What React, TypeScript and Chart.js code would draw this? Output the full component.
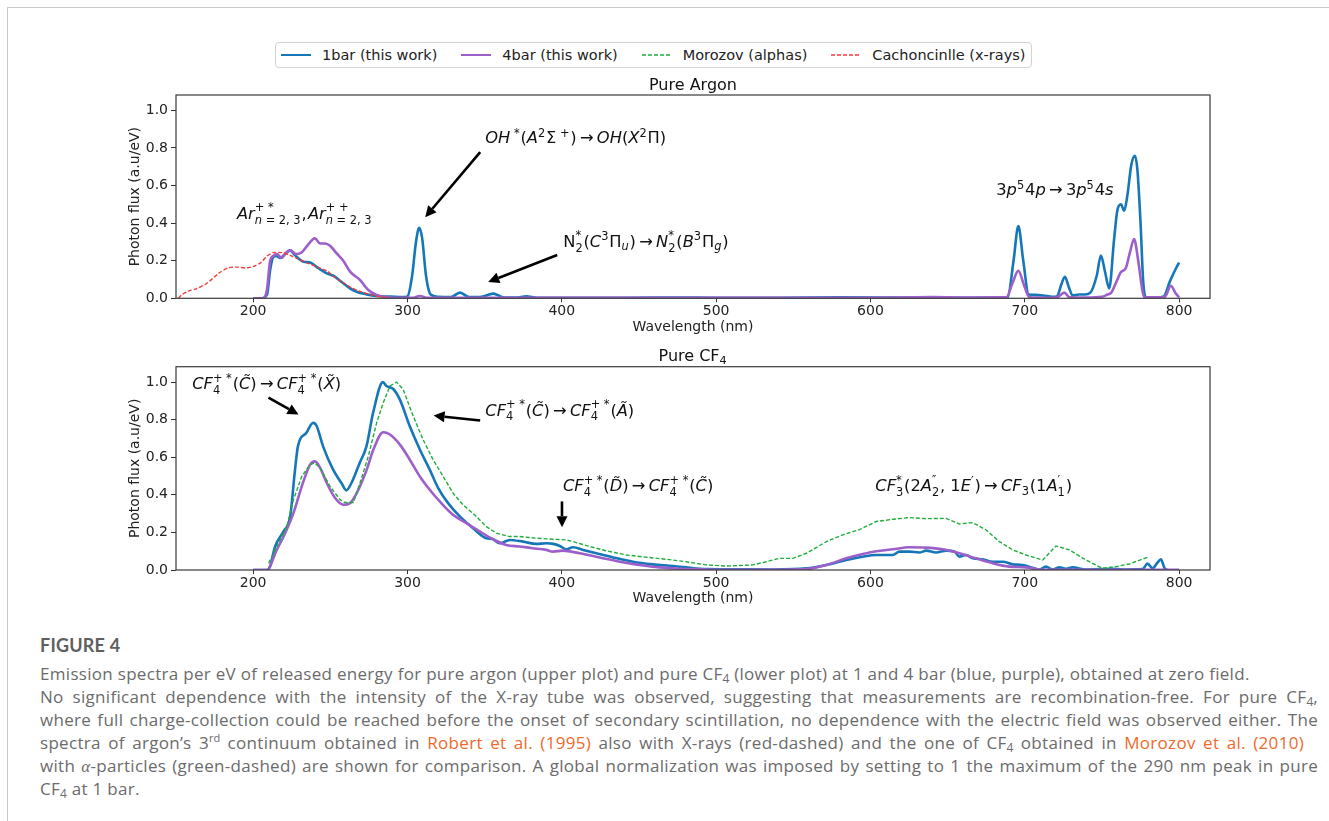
import React, { useEffect, useRef } from 'react';
import { Chart, registerables } from 'chart.js';

Chart.register(...registerables);

// ---------------- data ----------------
const X_TICKS = [200, 300, 400, 500, 600, 700, 800];
const Y_TICKS = [0, 0.2, 0.4, 0.6, 0.8, 1.0];
const X_MIN = 150;
const X_MAX = 820;
const Y_MAX = 1.082;

const LEGEND_LABELS = ['1bar (this work)', '4bar (this work)', 'Morozov (alphas)', 'Cachoncinlle (x-rays)'];
const TOP_TITLE = 'Pure Argon';
const BOTTOM_TITLE = 'Pure CF';
const X_LABEL = 'Wavelength (nm)';
const Y_LABEL = 'Photon flux (a.u/eV)';

// Pure argon, 1 bar  [wavelength nm, flux]
const AR_1BAR: [number, number][] = [
  [200, 0], [205, 0], [209, 0.02], [211, 0.15], [213, 0.22], [215, 0.225], [217.5, 0.215], [220, 0.23],
  [222, 0.245], [224, 0.255], [226, 0.24], [228.3, 0.22], [232.6, 0.195], [237, 0.19], [242.3, 0.16],
  [247.7, 0.133], [252, 0.12], [258.4, 0.08], [262.7, 0.053], [267, 0.035], [273.5, 0.021], [280, 0.012],
  [289, 0.009], [297, 0.006], [300, 0.01], [303, 0.12], [305.5, 0.3], [307.6, 0.375], [309.5, 0.32],
  [312, 0.12], [315, 0.02], [320, 0.008], [328, 0.006], [334, 0.03], [340, 0.006], [348, 0.008],
  [355.5, 0.025], [362, 0.006], [370, 0.004], [377, 0.01], [384, 0.003], [420, 0.002], [460, 0.004],
  [500, 0.003], [540, 0.002], [580, 0.005], [620, 0.004], [660, 0.003], [686, 0.003], [688.9, 0.005],
  [692.7, 0.2], [695.8, 0.384], [699, 0.2], [702.5, 0.02], [707, 0.018], [712, 0.015], [718, 0.008],
  [721, 0.012], [723.5, 0.07], [726, 0.115], [728.5, 0.06], [731, 0.015], [735, 0.02], [739, 0.02],
  [742.5, 0.03], [746.6, 0.12], [749.3, 0.227], [752, 0.14], [754.7, 0.053], [757.8, 0.31], [760, 0.47],
  [762.3, 0.5], [764.4, 0.466], [766.5, 0.55], [769, 0.71], [771.3, 0.759], [773, 0.68], [775, 0.4],
  [776.7, 0.092], [778.4, 0.005], [785, 0.005], [790, 0.01], [794, 0.09], [798, 0.16], [800, 0.19],
];

// Pure argon, 4 bar
const AR_4BAR: [number, number][] = [
  [200, 0], [207, 0], [209, 0.05], [211, 0.2], [213, 0.225], [215.3, 0.235], [218.6, 0.215], [221, 0.24],
  [224, 0.255], [228, 0.235], [231.5, 0.245], [234.6, 0.275], [240, 0.319], [243.4, 0.292], [246.6, 0.292],
  [249.8, 0.28], [254, 0.24], [258.4, 0.2], [262.8, 0.142], [269.3, 0.097], [274.6, 0.044], [280, 0.018],
  [286.5, 0.006], [295, 0.002], [303, 0.002], [308, 0.012], [313, 0.002], [340, 0.002], [400, 0.002],
  [500, 0.002], [600, 0.003], [640, 0.006], [660, 0.004], [680, 0.005], [688, 0.005], [692, 0.08],
  [695.8, 0.147], [699.5, 0.07], [703, 0.005], [715, 0.003], [721, 0.006], [725.6, 0.03], [729, 0.005],
  [740, 0.004], [750, 0.008], [753.5, 0.02], [756, 0.03], [760, 0.1], [762.3, 0.14], [765.4, 0.16],
  [768, 0.24], [770.8, 0.315], [773.5, 0.2], [776, 0.05], [777.4, 0.005], [786, 0.005], [791, 0.01],
  [794.6, 0.067], [797.5, 0.03], [800, 0.005],
];

// Cachoncinlle (x-rays), argon 3rd continuum
const CACH_XRAY: [number, number][] = [
  [151.5, 0], [154, 0.02], [158, 0.038], [163, 0.05], [170, 0.08], [178, 0.135], [184, 0.163], [190, 0.166],
  [196, 0.162], [201, 0.172], [205, 0.19], [209, 0.225], [213, 0.243], [219, 0.243], [224, 0.228], [229, 0.21],
  [236, 0.185], [243, 0.162], [248, 0.145], [252, 0.118], [258, 0.085], [264, 0.055], [270, 0.035], [276, 0.02],
  [283, 0.007], [288, 0.002],
];

// Pure CF4, 1 bar
const CF4_1BAR: [number, number][] = [
  [200, 0], [208.8, 0], [211, 0.02], [214.2, 0.125], [219.6, 0.205], [224, 0.285], [226.9, 0.516], [229, 0.658],
  [234.5, 0.73], [238.8, 0.783], [241, 0.769], [245.3, 0.658], [251.8, 0.534], [257.2, 0.463], [260.4, 0.424],
  [263.7, 0.463], [269, 0.57], [273.4, 0.658], [277.7, 0.836], [284.1, 1.0], [286.3, 0.979], [290.6, 0.965],
  [295, 0.908], [301.5, 0.765], [308, 0.641], [314.4, 0.534], [319.9, 0.436], [326.3, 0.356], [333.9, 0.285],
  [342.5, 0.222], [351.1, 0.169], [355, 0.165], [359.8, 0.142], [366.2, 0.16], [374.8, 0.151], [383.5, 0.139],
  [390, 0.142], [394.4, 0.139], [398.7, 0.128], [403, 0.11], [407.3, 0.121], [413.8, 0.107], [422.4, 0.089],
  [433.2, 0.067], [446.1, 0.044], [459, 0.03], [472, 0.021], [480.6, 0.014], [493.6, 0.005], [510, 0.004],
  [536.8, 0.003], [558.4, 0.009], [571.4, 0.027], [584.3, 0.053], [595, 0.071], [603.7, 0.08], [614.5, 0.08],
  [618.8, 0.098], [625.2, 0.098], [631.7, 0.093], [636, 0.103], [642.5, 0.093], [649, 0.103], [654.4, 0.098],
  [657.6, 0.071], [661.9, 0.08], [666.3, 0.062], [672.7, 0.057], [679.2, 0.044], [685.7, 0.044], [692.2, 0.03],
  [698.6, 0.027], [705.1, 0.012], [709.4, 0.003], [713.7, 0.018], [718, 0.003], [722.4, 0.014], [726.7, 0.007],
  [731, 0.014], [739.6, 0.003], [756.9, 0.007], [763.4, 0.003], [776.3, 0.005], [779.5, 0.034], [782.8, 0.009],
  [786, 0.04], [788.2, 0.057], [790.5, 0.01], [792, 0.002],
];

// Pure CF4, 4 bar
const CF4_4BAR: [number, number][] = [
  [200, 0], [208.8, 0], [215.3, 0.107], [220.7, 0.196], [226.1, 0.303], [231.5, 0.445], [236.9, 0.561],
  [240, 0.578], [243.4, 0.543], [247.7, 0.463], [253.1, 0.383], [258.5, 0.347], [262.8, 0.356], [267.1, 0.409],
  [273.6, 0.534], [277.9, 0.641], [284.3, 0.733], [288.6, 0.721], [295.1, 0.667], [301.5, 0.587], [308, 0.498],
  [314.4, 0.427], [320.9, 0.365], [329.5, 0.294], [338.2, 0.249], [346.8, 0.205], [355.4, 0.164], [364, 0.133],
  [372.7, 0.125], [381.3, 0.116], [389.9, 0.107], [394.2, 0.098], [400.7, 0.103], [411.6, 0.089], [424.5, 0.067],
  [437.5, 0.044], [450.4, 0.027], [463.3, 0.014], [476.3, 0.007], [489.2, 0.004], [504, 0.001], [536.8, 0.001],
  [558.4, 0.005], [571.4, 0.027], [584.3, 0.062], [595, 0.085], [603.7, 0.1], [614.5, 0.11], [625.2, 0.121],
  [636, 0.119], [646.8, 0.11], [657.6, 0.089], [668.4, 0.062], [679.2, 0.036], [690, 0.018], [700.8, 0.014],
  [709.4, 0.003], [720, 0.001], [800, 0.001],
];

// Morozov et al. (alphas), pure CF4
const MOROZOV_ALPHA: [number, number][] = [
  [210, 0.036], [215.3, 0.125], [221.8, 0.231], [226.1, 0.374], [231.5, 0.498], [236.9, 0.561], [240, 0.57],
  [243.4, 0.543], [249.8, 0.445], [256.3, 0.374], [259.5, 0.359], [264.9, 0.359], [269.2, 0.463], [274.6, 0.605],
  [280, 0.783], [284.3, 0.89], [288.6, 0.979], [292.9, 1.0], [297.2, 0.961], [303.7, 0.819], [310.1, 0.694],
  [316.6, 0.587], [323.1, 0.498], [329.5, 0.409], [336, 0.347], [344.6, 0.285], [351.1, 0.231], [357.6, 0.196],
  [366.2, 0.178], [372.7, 0.178], [383.5, 0.169], [394.2, 0.164], [403, 0.16], [407.3, 0.151], [418.1, 0.125],
  [428.9, 0.102], [441.8, 0.08], [454.8, 0.068], [467.7, 0.057], [480.6, 0.044], [493.6, 0.027], [506.5, 0.021],
  [523.8, 0.027], [532.4, 0.044], [541, 0.062], [549.7, 0.062], [558.4, 0.089], [571.4, 0.151], [582.1, 0.187],
  [592.9, 0.215], [603.7, 0.258], [614.5, 0.27], [625.2, 0.279], [636, 0.273], [649, 0.275], [657.6, 0.245],
  [666.3, 0.252], [674.9, 0.213], [683.5, 0.151], [692.2, 0.107], [700.8, 0.08], [711.6, 0.053], [720.2, 0.128],
  [728.9, 0.107], [739.6, 0.053], [750.4, 0.009], [759, 0.018], [767.7, 0.032], [780.6, 0.071],
];

// ---------------- styles ----------------
const C_1BAR = '#1677b8';
const C_4BAR = '#9d5fc9';
const C_MOROZOV = '#1fae3c';
const C_CACH = '#f23b3b';
const FONT = '"DejaVu Sans", sans-serif';

// ---------------- rich (math-like) text ----------------
type Run = { t: string; it?: boolean };
type Tok = Run | { sup?: Run[] | null; sub?: Run[] | null } | { sp: number };

const T = (t: string): Run => ({ t });
const I = (t: string): Run => ({ t, it: true });
const S = (sup: Run[] | null, sub?: Run[] | null): Tok => ({ sup, sub });
const SP = (sp: number): Tok => ({ sp });
const ARROW: Tok[] = [SP(0.2), T('\u2192'), SP(0.2)];

function fontOf(size: number, it?: boolean) {
  return `${it ? 'italic ' : ''}${size}px ${FONT}`;
}
function runsWidth(ctx: CanvasRenderingContext2D, runs: Run[] | null | undefined, size: number) {
  if (!runs) return 0;
  let w = 0;
  for (const r of runs) {
    ctx.font = fontOf(size, r.it);
    w += ctx.measureText(r.t).width;
  }
  return w;
}
function drawRuns(ctx: CanvasRenderingContext2D, runs: Run[] | null | undefined, x: number, y: number, size: number) {
  if (!runs) return;
  for (const r of runs) {
    ctx.font = fontOf(size, r.it);
    ctx.fillText(r.t, x, y);
    x += ctx.measureText(r.t).width;
  }
}
function tokWidth(ctx: CanvasRenderingContext2D, tok: Tok, size: number) {
  if ('sp' in tok) return tok.sp * size;
  if ('t' in tok) return runsWidth(ctx, [tok], size);
  const s = size * 0.7;
  return Math.max(runsWidth(ctx, tok.sup, s), runsWidth(ctx, tok.sub, s)) + size * 0.05;
}
function drawRich(ctx: CanvasRenderingContext2D, toks: Tok[], x: number, y: number, size: number, align: 'left' | 'center' = 'left') {
  let w = 0;
  for (const t of toks) w += tokWidth(ctx, t, size);
  if (align === 'center') x -= w / 2;
  ctx.textAlign = 'left';
  ctx.textBaseline = 'alphabetic';
  for (const tok of toks) {
    if ('sp' in tok) {
      x += tok.sp * size;
    } else if ('t' in tok) {
      drawRuns(ctx, [tok], x, y, size);
      x += runsWidth(ctx, [tok], size);
    } else {
      const s = size * 0.7;
      const both = !!(tok.sup && tok.sub);
      drawRuns(ctx, tok.sup, x, y - size * (both ? 0.45 : 0.4), s);
      drawRuns(ctx, tok.sub, x, y + size * (both ? 0.3 : 0.2), s);
      x += tokWidth(ctx, tok, size);
    }
  }
}
function drawArrow(ctx: CanvasRenderingContext2D, x1: number, y1: number, x2: number, y2: number) {
  const a = Math.atan2(y2 - y1, x2 - x1);
  const hl = 11;
  const hw = 5.5;
  const bx = x2 - hl * Math.cos(a);
  const by = y2 - hl * Math.sin(a);
  ctx.strokeStyle = '#000';
  ctx.lineWidth = 2.6;
  ctx.beginPath();
  ctx.moveTo(x1, y1);
  ctx.lineTo(bx, by);
  ctx.stroke();
  ctx.fillStyle = '#000';
  ctx.beginPath();
  ctx.moveTo(x2, y2);
  ctx.lineTo(bx + hw * Math.sin(a), by - hw * Math.cos(a));
  ctx.lineTo(bx - hw * Math.sin(a), by + hw * Math.cos(a));
  ctx.closePath();
  ctx.fill();
}

type Note = { x: number; y: number; toks: Tok[] };
type Arrow = { from: [number, number]; to: [number, number] };
type Overlay = { title: Tok[]; notes: Note[]; arrows: Arrow[] };

const CF4PS = (sub: string): Tok[] => [I('CF'), S([T('+ *')], [T(sub)])];

const TOP_OVERLAY: Overlay = {
  title: [T(TOP_TITLE)],
  notes: [
    { x: 189.5, y: 0.424, toks: [I('Ar'), S([T('+ *')], [I('n'), T(' = 2, 3')]), T(','), SP(0.08), I('Ar'), S([T('+ +')], [I('n'), T(' = 2, 3')])] },
    { x: 350.4, y: 0.826, toks: [I('OH'), S([T(' *')]), T('('), I('A'), S([T('2')]), T('\u03A3'), S([T(' +')]), T(')'), ...ARROW, I('OH'), T('('), I('X'), S([T('2')]), T('\u03A0'), T(')')] },
    { x: 400.9, y: 0.274, toks: [T('N'), S([T('*')], [T('2')]), T('('), I('C'), S([T('3')]), T('\u03A0'), S(null, [I('u')]), T(')'), ...ARROW, I('N'), S([T('*')], [T('2')]), T('('), I('B'), S([T('3')]), T('\u03A0'), S(null, [I('g')]), T(')')] },
    { x: 681.5, y: 0.549, toks: [T('3'), I('p'), S([T('5')]), T('4'), I('p'), ...ARROW, T('3'), I('p'), S([T('5')]), T('4'), I('s')] },
  ],
  arrows: [
    { from: [347.1, 0.778], to: [311.5, 0.432] },
    { from: [397.0, 0.23], to: [352.3, 0.087] },
  ],
};

const BOTTOM_OVERLAY: Overlay = {
  title: [T(BOTTOM_TITLE), S(null, [T('4')])],
  notes: [
    { x: 160.5, y: 0.961, toks: [...CF4PS('4'), T('('), I('C\u0303'), T(')'), ...ARROW, ...CF4PS('4'), T('('), I('X\u0303'), T(')')] },
    { x: 350.4, y: 0.822, toks: [...CF4PS('4'), T('('), I('C\u0303'), T(')'), ...ARROW, ...CF4PS('4'), T('('), I('A\u0303'), T(')')] },
    { x: 400.7, y: 0.418, toks: [...CF4PS('4'), T('('), I('D\u0303'), T(')'), ...ARROW, ...CF4PS('4'), T('('), I('C\u0303'), T(')')] },
    { x: 603.1, y: 0.418, toks: [I('CF'), S([T('*')], [T('3')]), T('(2'), I('A'), S([T('\u2033')], [T('2')]), T(', 1'), I('E'), S([T('\u2032')]), T(')'), ...ARROW, I('CF'), S(null, [T('3')]), T('(1'), I('A'), S([T('\u2032')], [T('1')]), T(')')] },
  ],
  arrows: [
    { from: [209.9, 0.917], to: [229.4, 0.827] },
    { from: [347.1, 0.796], to: [316.9, 0.822] },
    { from: [400.1, 0.365], to: [400.1, 0.228] },
  ],
};

function overlayPlugin(spec: Overlay) {
  return {
    id: 'overlay',
    afterDraw(chart: any) {
      const { ctx, chartArea: a, scales } = chart;
      const xs = scales.x;
      const ys = scales.y;
      ctx.save();
      ctx.strokeStyle = '#3a3a3a';
      ctx.lineWidth = 1.2;
      ctx.strokeRect(a.left, a.top, a.right - a.left, a.bottom - a.top);
      ctx.fillStyle = '#111';
      drawRich(ctx, spec.title, (a.left + a.right) / 2, a.top - 5.5, 16, 'center');
      for (const n of spec.notes) {
        ctx.fillStyle = '#111';
        drawRich(ctx, n.toks, xs.getPixelForValue(n.x), ys.getPixelForValue(n.y), 16.3);
      }
      for (const ar of spec.arrows) {
        drawArrow(ctx, xs.getPixelForValue(ar.from[0]), ys.getPixelForValue(ar.from[1]), xs.getPixelForValue(ar.to[0]), ys.getPixelForValue(ar.to[1]));
      }
      ctx.restore();
    },
  };
}

const pts = (arr: [number, number][]) => arr.map(([x, y]) => ({ x, y }));

function solid(label: string, arr: [number, number][], color: string, order: number) {
  return { label, data: pts(arr), borderColor: color, borderWidth: 2.6, pointRadius: 0, cubicInterpolationMode: 'monotone', fill: false, order };
}
function dashed(label: string, arr: [number, number][], color: string, order: number, tension: number) {
  return { label, data: pts(arr), borderColor: color, borderWidth: 1.4, borderDash: [4, 2], pointRadius: 0, tension, fill: false, order };
}

function makeConfig(datasets: any[], spec: Overlay, padTop: number, padBottom: number) {
  const tickFont = { family: FONT, size: 14 };
  return {
    type: 'line',
    data: { datasets },
    options: {
      animation: false,
      responsive: false,
      devicePixelRatio: 1,
      layout: { padding: { left: 116, right: 119, top: padTop, bottom: padBottom } },
      plugins: { legend: { display: false }, tooltip: { enabled: false }, title: { display: false } },
      scales: {
        x: {
          type: 'linear',
          min: X_MIN,
          max: X_MAX,
          afterBuildTicks: (ax: any) => { ax.ticks = X_TICKS.map((v) => ({ value: v })); },
          afterFit: (ax: any) => { ax.height = 40; },
          grid: { drawOnChartArea: false, drawTicks: true, tickLength: 4, color: '#333', lineWidth: 1 },
          border: { display: false },
          ticks: { font: tickFont, color: '#222', padding: 1, maxRotation: 0, autoSkip: false },
          title: { display: true, text: X_LABEL, font: tickFont, color: '#222', padding: { top: 0, bottom: 3 } },
        },
        y: {
          type: 'linear',
          min: 0,
          max: Y_MAX,
          afterBuildTicks: (ax: any) => { ax.ticks = Y_TICKS.map((v) => ({ value: v })); },
          afterFit: (ax: any) => { ax.width = 60; },
          grid: { drawOnChartArea: false, drawTicks: true, tickLength: 5, color: '#333', lineWidth: 1 },
          border: { display: false },
          ticks: { font: tickFont, color: '#222', padding: 3, callback: (v: any) => Number(v).toFixed(1) },
          title: { display: true, text: Y_LABEL, font: tickFont, color: '#222', padding: { top: 10.6, bottom: 0 } },
        },
      },
    },
    plugins: [overlayPlugin(spec)],
  };
}

function ChartCanvas({ config, top }: { config: () => any; top: number }) {
  const ref = useRef<HTMLCanvasElement | null>(null);
  useEffect(() => {
    if (!ref.current) return;
    const chart = new Chart(ref.current, config());
    return () => chart.destroy();
  }, []);
  return <canvas ref={ref} width={1329} height={270} style={{ position: 'absolute', left: 0, top, width: 1329, height: 270 }} />;
}

function LegendSample({ color, dashedLine }: { color: string; dashedLine: boolean }) {
  return (
    <svg width={30} height={10} style={{ display: 'block' }}>
      <line x1={0} y1={5} x2={30} y2={5} stroke={color} strokeWidth={dashedLine ? 1.4 : 2} strokeDasharray={dashedLine ? '4 2' : undefined} />
    </svg>
  );
}

const sub = (t: string) => <sub style={{ fontSize: 12, lineHeight: 0, verticalAlign: -3, letterSpacing: 0 }}>{t}</sub>;
const sup = (t: string) => <sup style={{ fontSize: 11, lineHeight: 0, verticalAlign: 7, letterSpacing: 0 }}>{t}</sup>;
const LINK = '#ee6a2c';

export default function App() {
  const legendColors = [C_1BAR, C_4BAR, C_MOROZOV, C_CACH];
  const line = { whiteSpace: 'nowrap' as const, height: 23 };
  const just = { ...line, textAlign: 'justify' as const, textAlignLast: 'justify' as const };
  return (
    <div style={{ position: 'absolute', left: 0, top: 0, width: 1329, height: 821, background: '#fff', overflow: 'hidden' }}>
      <div style={{ position: 'absolute', left: 7, top: 7, width: 1400, height: 900, borderLeft: '1px solid #c9c9c9', borderTop: '1px solid #c9c9c9' }} />
      <div style={{ position: 'absolute', left: 275, top: 42, height: 26, boxSizing: 'border-box', border: '1px solid #d2d2d2', borderRadius: 4, display: 'flex', alignItems: 'center', padding: '0 6px 0 5px', font: `14.5px ${FONT}`, color: '#222', background: '#fff' }}>
        {LEGEND_LABELS.map((lab, i) => (
          <div key={lab} style={{ display: 'flex', alignItems: 'center', marginRight: i < LEGEND_LABELS.length - 1 ? 24 : 0 }}>
            <LegendSample color={legendColors[i]} dashedLine={i >= 2} />
            <span style={{ marginLeft: 11, whiteSpace: 'nowrap' }}>{lab}</span>
          </div>
        ))}
      </div>
      <ChartCanvas
        top={70}
        config={() => makeConfig([
          solid(LEGEND_LABELS[0], AR_1BAR, C_1BAR, 4),
          solid(LEGEND_LABELS[1], AR_4BAR, C_4BAR, 3),
          dashed(LEGEND_LABELS[3], CACH_XRAY, C_CACH, 1, 0.25),
        ], TOP_OVERLAY, 25, 1.7)}
      />
      <ChartCanvas
        top={340}
        config={() => makeConfig([
          solid(LEGEND_LABELS[0], CF4_1BAR, C_1BAR, 4),
          solid(LEGEND_LABELS[1], CF4_4BAR, C_4BAR, 3),
          dashed(LEGEND_LABELS[2], MOROZOV_ALPHA, C_MOROZOV, 2, 0),
        ], BOTTOM_OVERLAY, 26.7, 0)}
      />
      <div style={{ position: 'absolute', left: 40, top: 634, width: 1278, fontFamily: '"Open Sans", sans-serif', color: '#6b6b6b', lineHeight: '23px', fontSize: 17, letterSpacing: 0.3 }}>
        <div style={{ fontFamily: 'Lato, sans-serif', fontSize: 18, fontWeight: 700, color: '#5f5f5f', height: 28, letterSpacing: 0.2 }}>FIGURE 4</div>
        <div style={line}>Emission spectra per eV of released energy for pure argon (upper plot) and pure CF{sub('4')} (lower plot) at 1 and 4 bar (blue, purple), obtained at zero field.</div>
        <div style={just}>No significant dependence with the intensity of the X-ray tube was observed, suggesting that measurements are recombination-free. For pure CF{sub('4')},</div>
        <div style={just}>where full charge-collection could be reached before the onset of secondary scintillation, no dependence with the electric field was observed either. The</div>
        <div style={{ ...just, paddingRight: 14 }}>spectra of argon’s 3{sup('rd')} continuum obtained in <span style={{ color: LINK }}>Robert et al. (1995)</span> also with X-rays (red-dashed) and the one of CF{sub('4')} obtained in <span style={{ color: LINK }}>Morozov et al. (2010)</span></div>
        <div style={just}>with <i style={{ fontFamily: 'serif' }}>α</i>-particles (green-dashed) are shown for comparison. A global normalization was imposed by setting to 1 the maximum of the 290 nm peak in pure</div>
        <div style={line}>CF{sub('4')} at 1 bar.</div>
      </div>
    </div>
  );
}
